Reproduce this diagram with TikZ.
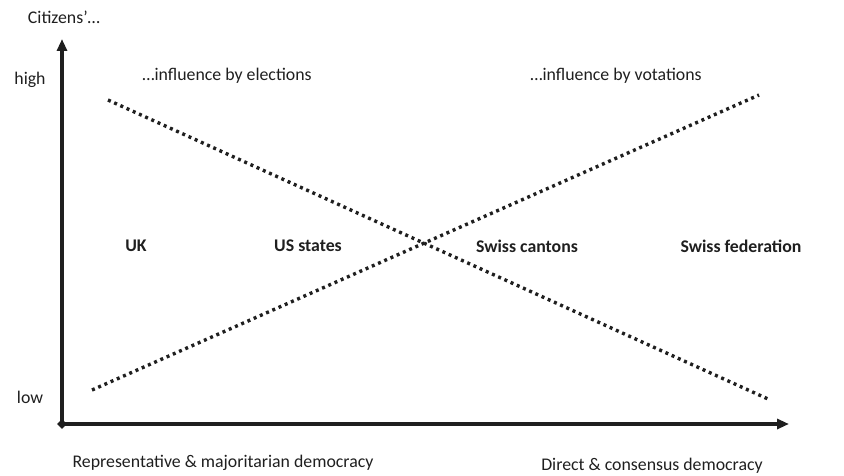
\documentclass[tikz,border=0pt]{standalone}
\usepackage{fontspec}
\setmainfont{Carlito}
\usetikzlibrary{arrows.meta,shapes.geometric}

\tikzset{
    axis/.style={line width=3.3pt, black!88, -{Triangle[length=12pt,width=10pt]}},
    trend/.style={line width=3.4pt, black!88, dash pattern=on 3pt off 3.8pt},
    lbl/.style={text=black!88, font=\fontsize{17.8}{20}\selectfont, inner sep=0pt},
    case/.style={lbl, font=\fontsize{17.8}{20}\selectfont\bfseries}
}

\begin{document}
\begin{tikzpicture}[x=1pt, y=-1pt]
    \useasboundingbox (0,0) rectangle (844,476);

    \coordinate (O) at (62,424);
    \coordinate (Ytop) at (62,39);
    \coordinate (Xend) at (789,424);

    \coordinate (ElecA) at (108,100);
    \coordinate (ElecB) at (768,399);
    \coordinate (VotA) at (92,390);
    \coordinate (VotB) at (759,95);

    % axes
    \draw[axis] (O) -- (Ytop);
    \draw[axis] (O) -- (Xend);
    \node[diamond, fill=black!88, inner sep=0pt, minimum size=10pt] (origin) at (O) {};

    % the two influence lines
    \draw[trend] (ElecA) -- (ElecB);
    \draw[trend] (VotA) -- (VotB);

    \node[lbl] (citizens) at (64,17) {Citizens'\ldots};
    \node[lbl] (high) at (30,80) {high};
    \node[lbl] (low) at (30,397) {low};
    \node[lbl] (elections) at (227,76) {\ldots influence by elections};
    \node[lbl] (votations) at (616,76) {\ldots influence by votations};

    \node[case] (uk) at (136,246) {UK};
    \node[case] (usstates) at (308,246) {US states};
    \node[case] (cantons) at (527,246) {Swiss cantons};
    \node[case] (federation) at (741,246) {Swiss federation};

    \node[lbl] (repr) at (223,463) {Representative \& majoritarian democracy};
    \node[lbl] (direct) at (652,466) {Direct \& consensus democracy};
\end{tikzpicture}
\end{document}
